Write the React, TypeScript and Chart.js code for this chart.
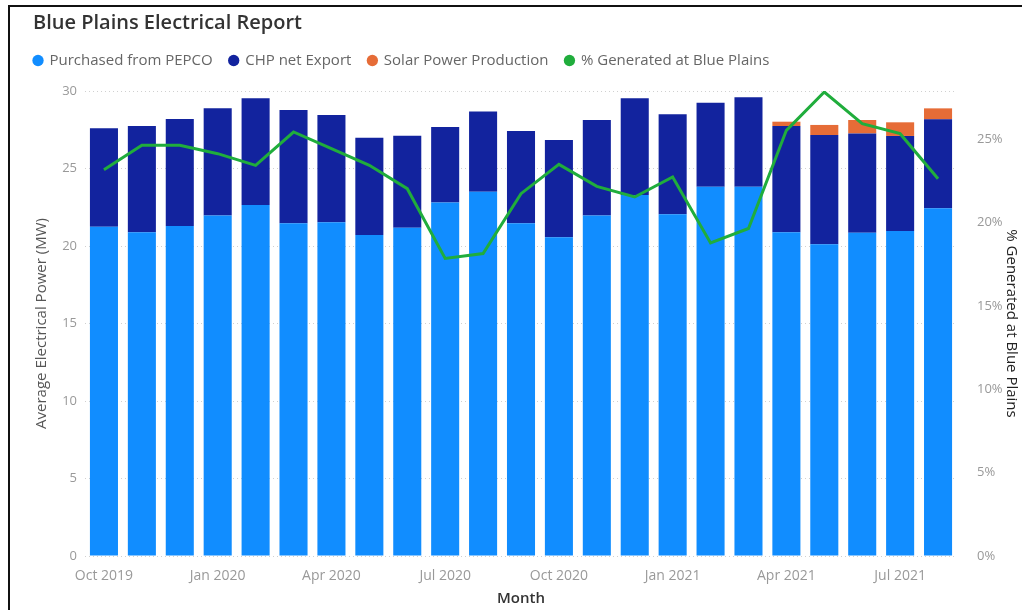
import React, { useEffect, useRef } from "react";
import { Chart, registerables } from "chart.js";

Chart.register(...registerables);

const months = [
  "Oct 2019", "Nov 2019", "Dec 2019", "Jan 2020", "Feb 2020", "Mar 2020",
  "Apr 2020", "May 2020", "Jun 2020", "Jul 2020", "Aug 2020", "Sep 2020",
  "Oct 2020", "Nov 2020", "Dec 2020", "Jan 2021", "Feb 2021", "Mar 2021",
  "Apr 2021", "May 2021", "Jun 2021", "Jul 2021", "Aug 2021",
];

const purchasedFromPepco = [
  21.25, 20.88, 21.29, 21.96, 22.65, 21.46, 21.53, 20.71, 21.18, 22.8, 23.5, 21.46,
  20.56, 21.96, 23.29, 22.05, 23.83, 23.83, 20.88, 20.11, 20.86, 20.97, 22.43,
];

const chpNetExport = [
  6.35, 6.86, 6.9, 6.92, 6.88, 7.31, 6.92, 6.28, 5.94, 4.88, 5.17, 5.96,
  6.28, 6.17, 6.24, 6.45, 5.42, 5.76, 6.86, 7.05, 6.4, 6.13, 5.74,
];

const solarProduction = [
  0, 0, 0, 0, 0, 0, 0, 0, 0, 0, 0, 0,
  0, 0, 0, 0, 0, 0, 0.28, 0.65, 0.87, 0.88, 0.71,
];

const pctGenerated = [
  23.18, 24.64, 24.64, 24.14, 23.44, 25.44, 24.44, 23.44, 22.04, 17.85, 18.15, 21.74,
  23.5, 22.18, 21.54, 22.74, 18.78, 19.65, 25.54, 27.84, 25.94, 25.34, 22.64,
];

const leftTicks = [0, 5, 10, 15, 20, 25, 30];
const rightTicks = [0, 5, 10, 15, 20, 25];

const FONT = "'Open Sans', 'Noto Sans', sans-serif";

const legendTweak = {
  id: "legendTweak",
  beforeInit(chart: any) {
    const legend = chart.legend;
    if (!legend) return;
    const origFit = legend.fit;
    legend.fit = function () {
      origFit.call(this);
      this.height += 13;
    };
    const origDraw = legend.draw;
    legend.draw = function (...args: any[]) {
      const ctx = this.ctx;
      ctx.save();
      ctx.translate(-16, 0);
      origDraw.apply(this, args);
      ctx.restore();
    };
  },
};

export default function App() {
  const canvasRef = useRef<HTMLCanvasElement | null>(null);

  useEffect(() => {
    const canvas = canvasRef.current;
    if (!canvas) return;
    const chart = new Chart(canvas, {
      type: "bar",
      plugins: [legendTweak],
      data: {
        labels: months,
        datasets: [
          {
            type: "bar",
            label: "Purchased from PEPCO",
            data: purchasedFromPepco,
            backgroundColor: "#118DFF",
            stack: "power",
            yAxisID: "y",
            order: 1,
            barPercentage: 0.74,
            categoryPercentage: 1,
          },
          {
            type: "bar",
            label: "CHP net Export",
            data: chpNetExport,
            backgroundColor: "#12239E",
            stack: "power",
            yAxisID: "y",
            order: 1,
            barPercentage: 0.74,
            categoryPercentage: 1,
          },
          {
            type: "bar",
            label: "Solar Power Production",
            data: solarProduction,
            backgroundColor: "#E66C37",
            stack: "power",
            yAxisID: "y",
            order: 1,
            barPercentage: 0.74,
            categoryPercentage: 1,
          },
          {
            type: "line",
            label: "% Generated at Blue Plains",
            data: pctGenerated,
            borderColor: "#20AD3C",
            backgroundColor: "#20AD3C",
            borderWidth: 3,
            pointRadius: 0,
            pointStyle: "circle",
            tension: 0,
            yAxisID: "y1",
            order: 0,
          },
        ],
      },
      options: {
        animation: false,
        responsive: false,
        maintainAspectRatio: false,
        layout: { padding: { left: 33, right: 2, top: 11, bottom: 0 } },
        plugins: {
          title: {
            display: true,
            text: "Blue Plains Electrical Report",
            align: "start",
            color: "#333333",
            font: { family: FONT, size: 20, weight: "600" },
            padding: { top: 0, bottom: 1 },
          },
          legend: {
            display: true,
            position: "top",
            align: "start",
            labels: {
              usePointStyle: true,
              boxWidth: 8,
              boxHeight: 8,
              padding: 17,
              color: "#666666",
              font: { family: FONT, size: 15 },
              sort: (a: any, b: any) => a.datasetIndex - b.datasetIndex,
              generateLabels: (chart: any) =>
                Chart.defaults.plugins.legend.labels
                  .generateLabels(chart)
                  .map((l: any) => ({ ...l, lineWidth: 0 })),
            },
          },
          tooltip: { enabled: false },
        },
        scales: {
          x: {
            stacked: true,
            grid: { display: false },
            border: { display: false },
            ticks: {
              autoSkip: false,
              maxRotation: 0,
              color: "#999999",
              font: { family: FONT, size: 14 },
              padding: 4,
              callback: (_v: any, i: number) => (i % 3 === 0 ? months[i] : ""),
            },
            title: {
              display: true,
              text: "Month",
              color: "#333333",
              font: { family: FONT, size: 15, weight: "600" },
              padding: { top: 0, bottom: 2 },
            },
            afterFit: (s: any) => {
              s.height = 54;
            },
          },
          y: {
            stacked: true,
            position: "left",
            min: leftTicks[0],
            max: leftTicks[leftTicks.length - 1],
            afterBuildTicks: (s: any) => {
              s.ticks = leftTicks.map((v) => ({ value: v }));
            },
            grid: {
              color: "#D0D0D0",
              drawTicks: false,
            },
            border: { display: false, dash: [1, 3] },
            ticks: {
              color: "#999999",
              font: { family: FONT, size: 13 },
              padding: 8,
            },
            title: {
              display: true,
              text: "Average Electrical Power (MW)",
              color: "#555555",
              font: { family: FONT, size: 15 },
              padding: { top: 0, bottom: 2 },
            },
            afterFit: (s: any) => {
              s.width = 52;
            },
          },
          y1: {
            position: "right",
            min: 0,
            max: 27.9,
            afterBuildTicks: (s: any) => {
              s.ticks = rightTicks.map((v) => ({ value: v }));
            },
            grid: { display: false },
            border: { display: false },
            ticks: {
              color: "#999999",
              font: { family: FONT, size: 13 },
              padding: 12,
              callback: (v: any) => v + "%",
            },
            title: {
              display: true,
              text: "% Generated at Blue Plains",
              color: "#222222",
              font: { family: FONT, size: 15 },
              padding: { top: 0, bottom: 0 },
            },
            afterFit: (s: any) => {
              s.width = 63;
            },
          },
        },
      },
    });
    return () => chart.destroy();
  }, []);

  return (
    <div>
      <canvas
        ref={canvasRef}
        width={1022}
        height={610}
        style={{ position: "fixed", left: 0, top: 0, width: 1022, height: 610 }}
      />
      <div
        style={{
          position: "fixed",
          left: 8,
          top: 5,
          width: 1014,
          height: 605,
          borderTop: "2px solid #111",
          borderLeft: "2px solid #111",
          pointerEvents: "none",
        }}
      />
    </div>
  );
}
